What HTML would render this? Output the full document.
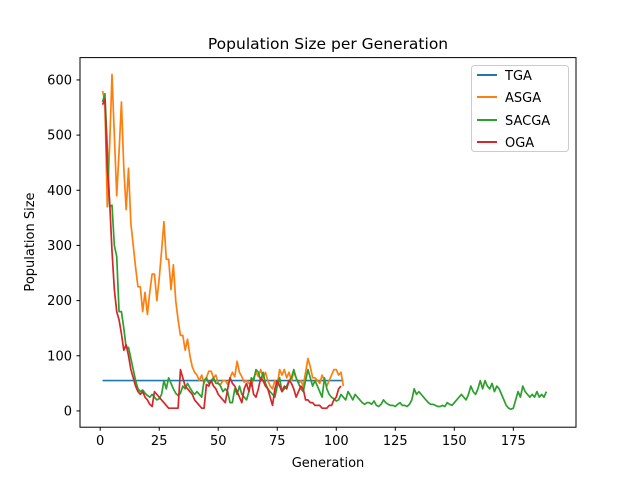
<!DOCTYPE html>
<html><head><meta charset="utf-8"><style>
body{margin:0;background:#fff;}
svg{font-family:"DejaVu Sans","Liberation Sans",sans-serif;}
</style></head><body>
<svg id="chart" width="640" height="480">
<rect width="640" height="480" fill="#fff"/>
<text x="328" y="49" font-size="15.5" text-anchor="middle">Population Size per Generation</text>
<text x="328" y="467" font-size="13" text-anchor="middle">Generation</text>
<text x="34" y="242" font-size="13" text-anchor="middle" transform="rotate(-90 34 242)">Population Size</text>
<g id="ticks"></g>
<g id="plot"></g>
<rect x="80" y="57.6" width="496" height="369.6" fill="none" stroke="#000" stroke-width="1"/>
<g>
<rect x="471.5" y="65.5" width="97" height="86" fill="#fff" stroke="#ccc" rx="3"/>
<line x1="477" y1="75" x2="497" y2="75" stroke="#1f77b4" stroke-width="2"/><text x="505" y="80" font-size="13">TGA</text>
<line x1="477" y1="97" x2="497" y2="97" stroke="#ff7f0e" stroke-width="2"/><text x="505" y="102" font-size="13">ASGA</text>
<line x1="477" y1="120" x2="497" y2="120" stroke="#2ca02c" stroke-width="2"/><text x="505" y="125" font-size="13">SACGA</text>
<line x1="477" y1="142" x2="497" y2="142" stroke="#d62728" stroke-width="2"/><text x="505" y="147" font-size="13">OGA</text>
</g>
</svg>
<script>
const xTicks=[0,25,50,75,100,125,150,175];
const yTicks=[0,100,200,300,400,500,600];
const tga=new Array(103).fill(55);
const asga=[580,560,370,480,610,500,390,470,560,440,365,440,340,300,260,225,225,180,215,175,215,248,248,200,240,290,343,275,275,220,265,200,165,137,137,110,130,100,80,70,65,55,65,50,60,72,72,60,65,50,48,55,55,48,60,70,62,90,70,62,52,55,50,45,60,70,62,75,60,70,55,45,40,55,45,75,65,75,60,70,55,70,60,50,55,45,70,95,80,60,60,55,50,65,55,45,55,65,75,75,65,70,45];
const sacga=[560,575,480,370,373,300,280,180,180,150,115,115,95,75,55,40,35,38,32,28,25,30,25,20,22,30,55,40,60,50,40,32,28,32,45,40,50,42,35,30,35,30,25,55,60,50,55,60,50,50,45,35,40,35,15,15,40,30,45,30,25,20,35,60,55,75,70,55,70,50,40,35,30,25,45,60,35,40,45,55,60,75,60,50,40,35,55,75,60,45,55,45,35,25,60,40,30,25,22,18,20,30,25,20,35,28,20,30,25,20,15,12,15,15,12,18,10,8,12,20,15,12,10,10,8,12,15,10,10,8,12,20,40,30,35,30,25,20,15,12,12,10,8,8,10,8,15,12,10,15,20,25,30,25,20,30,45,35,30,40,55,40,55,45,40,50,35,45,40,30,20,10,5,3,5,20,35,25,45,35,30,25,30,25,35,25,30,25,35];
const oga=[555,565,440,380,290,220,180,165,140,110,120,100,75,60,45,35,30,35,25,20,12,8,35,30,25,20,15,10,5,5,5,5,5,75,60,45,40,35,30,20,15,10,5,5,48,45,55,45,40,30,25,20,15,40,60,50,45,35,25,15,40,50,35,55,30,25,40,60,55,45,40,25,10,40,55,45,35,45,40,55,50,40,25,35,45,40,20,20,15,15,10,10,10,5,5,5,10,10,20,25,40,45];
const X0=-8.55,X1=201.55,Y0=-29.5,Y1=640.5;
function sx(v){return 80+(v-X0)/(X1-X0)*496;}
function sy(v){return 427.2-(v-Y0)/(Y1-Y0)*369.6;}
const NS='http://www.w3.org/2000/svg';
const tk=document.getElementById('ticks');
xTicks.forEach(t=>{
 const l=document.createElementNS(NS,'line');
 l.setAttribute('x1',sx(t));l.setAttribute('x2',sx(t));l.setAttribute('y1',427.2);l.setAttribute('y2',430.7);l.setAttribute('stroke','#000');
 
 
 tk.appendChild(l);
 const tx=document.createElementNS(NS,'text');
 tx.setAttribute('x',sx(t));tx.setAttribute('y',445);tx.setAttribute('font-size','13');tx.setAttribute('text-anchor','middle');tx.textContent=t;
 
 
 tk.appendChild(tx);
});
yTicks.forEach(t=>{
 const l=document.createElementNS(NS,'line');
 l.setAttribute('x1',76.5);l.setAttribute('x2',80);l.setAttribute('y1',sy(t));l.setAttribute('y2',sy(t));l.setAttribute('stroke','#000');
 
 
 tk.appendChild(l);
 const tx=document.createElementNS(NS,'text');
 tx.setAttribute('x',72);tx.setAttribute('y',sy(t)+4.5);tx.setAttribute('font-size','13');tx.setAttribute('text-anchor','end');tx.textContent=t;
 
 
 tk.appendChild(tx);
});
const plot=document.getElementById('plot');
function line(arr,color,name){
 const p=document.createElementNS(NS,'polyline');
 p.setAttribute('points',arr.map((v,i)=>sx(i+1)+','+sy(v)).join(' '));
 p.setAttribute('fill','none');p.setAttribute('stroke',color);p.setAttribute('stroke-width','1.7');p.setAttribute('stroke-linejoin','round');
 
 
 plot.appendChild(p);
}
line(tga,'#1f77b4','tga-line');
line(asga,'#ff7f0e','asga-line');
line(sacga,'#2ca02c','sacga-line');
line(oga,'#d62728','oga-line');
</script>
</body></html>
